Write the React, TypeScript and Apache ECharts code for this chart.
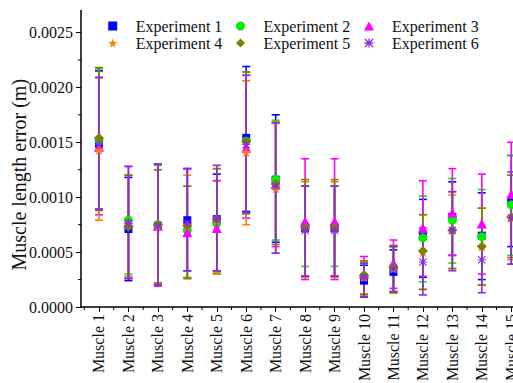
import React, { useEffect, useRef } from "react";
import * as echarts from "echarts";

const categories = [
  "Muscle 1", "Muscle 2", "Muscle 3", "Muscle 4", "Muscle 5",
  "Muscle 6", "Muscle 7", "Muscle 8", "Muscle 9", "Muscle 10",
  "Muscle 11", "Muscle 12", "Muscle 13", "Muscle 14", "Muscle 15",
];

const yTicks = [0, 0.0005, 0.001, 0.0015, 0.002, 0.0025];
const yMinorTicks = [0.00025, 0.00075, 0.00125, 0.00175, 0.00225];

const exp1Mean = [0.00149, 0.00071, 0.00074, 0.00079, 0.0008, 0.00154, 0.00116, 0.00072, 0.00072, 0.00024, 0.00032, 0.00066, 0.00082, 0.00065, 0.00097];
const exp1Low = [0.00089, 0.00024, 0.0002, 0.00033, 0.00033, 0.00087, 0.00059, 0.00028, 0.00028, 0.00009, 0.00014, 0.00027, 0.00047, 0.00025, 0.00055];
const exp1High = [0.00215, 0.00118, 0.0013, 0.00126, 0.00121, 0.00219, 0.00175, 0.0011, 0.0011, 0.00038, 0.00052, 0.00098, 0.00114, 0.00104, 0.00138];

const exp2Mean = [0.00152, 0.00079, 0.00075, 0.0007, 0.00076, 0.00151, 0.00116, 0.00074, 0.00074, 0.00028, 0.00036, 0.00063, 0.00079, 0.00064, 0.00093];
const exp2Low = [0.00088, 0.0003, 0.00021, 0.00027, 0.00031, 0.00085, 0.00061, 0.00037, 0.00037, 0.00012, 0.00013, 0.00023, 0.0004, 0.0002, 0.00047];
const exp2High = [0.00217, 0.0012, 0.00129, 0.0011, 0.00115, 0.00214, 0.0017, 0.0011, 0.0011, 0.0004, 0.00055, 0.00101, 0.00117, 0.00107, 0.00138];

const exp3Mean = [0.00146, 0.00077, 0.00074, 0.00068, 0.00072, 0.00145, 0.00112, 0.00078, 0.00078, 0.0003, 0.0004, 0.00072, 0.00086, 0.00076, 0.00103];
const exp3Low = [0.00084, 0.00026, 0.00019, 0.00026, 0.0003, 0.00081, 0.00055, 0.00025, 0.00025, 0.00012, 0.00017, 0.00028, 0.00047, 0.0003, 0.00039];
const exp3High = [0.00209, 0.00128, 0.0013, 0.00126, 0.00115, 0.00211, 0.00168, 0.00135, 0.00135, 0.00046, 0.00061, 0.00115, 0.00126, 0.00121, 0.0015];

const exp4Mean = [0.00143, 0.00075, 0.00074, 0.00074, 0.00079, 0.00141, 0.00108, 0.00071, 0.00071, 0.00027, 0.00035, 0.0005, 0.0007, 0.00055, 0.00081];
const exp4Low = [0.00079, 0.00028, 0.00022, 0.00026, 0.0003, 0.00075, 0.00049, 0.00027, 0.00027, 0.00012, 0.00013, 0.00016, 0.00035, 0.0002, 0.00043];
const exp4High = [0.00209, 0.0012, 0.00125, 0.0012, 0.00126, 0.00206, 0.00167, 0.00114, 0.00114, 0.00042, 0.00056, 0.00084, 0.00102, 0.0009, 0.0012];

const exp5Mean = [0.00154, 0.00073, 0.00075, 0.00074, 0.0008, 0.00151, 0.00112, 0.00072, 0.00072, 0.00029, 0.00036, 0.00051, 0.0007, 0.00055, 0.00082];
const exp5Low = [0.00088, 0.00026, 0.00022, 0.00026, 0.00033, 0.00085, 0.00057, 0.00028, 0.00028, 0.00011, 0.00013, 0.00016, 0.00035, 0.0002, 0.00045];
const exp5High = [0.00218, 0.0012, 0.00125, 0.0011, 0.00126, 0.00214, 0.00168, 0.00116, 0.00116, 0.00042, 0.00056, 0.00084, 0.00105, 0.0009, 0.0012];

const exp6Mean = [0.00148, 0.00076, 0.00074, 0.00076, 0.0008, 0.00148, 0.0011, 0.0007, 0.0007, 0.00027, 0.00035, 0.00041, 0.0007, 0.00043, 0.00081];
const exp6Low = [0.00089, 0.00026, 0.0002, 0.00033, 0.00033, 0.00086, 0.00049, 0.00028, 0.00028, 0.00009, 0.00014, 0.00011, 0.00033, 0.00013, 0.00039];
const exp6High = [0.00209, 0.00128, 0.0013, 0.00126, 0.00129, 0.00211, 0.00168, 0.0011, 0.0011, 0.0004, 0.00055, 0.00072, 0.00105, 0.00073, 0.00123];

const experimentNames = ["Experiment 1", "Experiment 2", "Experiment 3", "Experiment 4", "Experiment 5", "Experiment 6"];
const means = [exp1Mean, exp2Mean, exp3Mean, exp4Mean, exp5Mean, exp6Mean];
const lows = [exp1Low, exp2Low, exp3Low, exp4Low, exp5Low, exp6Low];
const highs = [exp1High, exp2High, exp3High, exp4High, exp5High, exp6High];

const colors = ["#0000ff", "#00ee00", "#ff00ff", "#ff7f00", "#808000", "#8a2be2"];
const symbols = [
  "path://M0 0H10V10H0Z",
  "circle",
  "path://M5 0L10 9L0 9Z",
  "path://M50 0L61.8 33.8L97.6 34.5L69 56.2L79.4 90.5L50 70L20.6 90.5L31 56.2L2.4 34.5L38.2 33.8Z",
  "path://M5 0L10 5L5 10L0 5Z",
  "path://M43 0H57V100H43ZM0 43H100V57H0ZM0 10L10 0L100 90L90 100ZM90 0L100 10L10 100L0 90Z",
];
const symbolSizes = [8, 9, 10, 10, 10, 8];

const FONT = "Liberation Serif";
const X_START = 0.389; // where the y axis crosses the x axis
const X_END = 15.06;

export default function App() {
  const ref = useRef<HTMLDivElement>(null);

  useEffect(() => {
    document.body.style.margin = "0";
    const chart = echarts.init(ref.current!, null, { renderer: "svg" });

    const errorSeries = experimentNames.map((name, k) => ({
      type: "custom",
      name: name + " error",
      data: categories.map((_, i) => [i + 1, lows[k][i], highs[k][i]]),
      encode: { x: 0, y: [1, 2] },
      z: 2,
      renderItem: (params: any, api: any) => {
        const x = api.value(0);
        const pLo = api.coord([x, api.value(1)]);
        const pHi = api.coord([x, api.value(2)]);
        const hw = 4;
        const style = { stroke: colors[k], lineWidth: 1.6 };
        return {
          type: "group",
          children: [
            { type: "line", shape: { x1: pLo[0], y1: pLo[1], x2: pHi[0], y2: pHi[1] }, style },
            { type: "line", shape: { x1: pHi[0] - hw, y1: pHi[1], x2: pHi[0] + hw, y2: pHi[1] }, style },
            { type: "line", shape: { x1: pLo[0] - hw, y1: pLo[1], x2: pLo[0] + hw, y2: pLo[1] }, style },
          ],
        };
      },
    }));

    const scatterSeries = experimentNames.map((name, k) => ({
      type: "scatter",
      name,
      symbol: symbols[k],
      symbolSize: symbolSizes[k],
      itemStyle: { color: colors[k], opacity: 1 },
      data: categories.map((_, i) => [i + 1, means[k][i]]),
      z: 3,
    }));

    // x axis line (starting at the y axis) and minor ticks, placed through the axes' scales
    const axisDecorSeries = {
      type: "custom",
      name: "axis decor",
      silent: true,
      clip: false,
      data: [0],
      z: 4,
      renderItem: (params: any, api: any) => {
        const children: any[] = [];
        const style = { stroke: "#000", lineWidth: 1 };
        const a = api.coord([X_START, 0]);
        const b = api.coord([X_END, 0]);
        children.push({ type: "line", shape: { x1: a[0] - 0.75, y1: a[1], x2: b[0], y2: b[1] }, style: { stroke: "#000", lineWidth: 1.5 } });
        categories.forEach((_, i) => {
          const p = api.coord([i + 0.5, 0]);
          children.push({ type: "line", shape: { x1: p[0], y1: p[1], x2: p[0], y2: p[1] + 3 }, style });
        });
        yMinorTicks.forEach((v) => {
          const p = api.coord([X_START, v]);
          children.push({ type: "line", shape: { x1: p[0], y1: p[1], x2: p[0] - 3, y2: p[1] }, style });
        });
        return { type: "group", children };
      },
    };

    const legendBase = {
      orient: "vertical",
      top: 18,
      padding: 0,
      itemWidth: 36,
      itemHeight: 9,
      itemGap: 1,
      symbolKeepAspect: true,
      textStyle: { fontFamily: FONT, fontSize: 16, color: "#111" },
    };

    const gridLeft = 81 - X_START * ((513 - 81) / (X_END - X_START));

    chart.setOption({
      animation: false,
      backgroundColor: "#ffffff",
      color: colors,
      legend: [
        { ...legendBase, left: 108, data: ["Experiment 1", "Experiment 4"] },
        { ...legendBase, left: 236, data: ["Experiment 2", "Experiment 5"] },
        { ...legendBase, left: 364, data: ["Experiment 3", "Experiment 6"] },
      ],
      grid: { left: gridLeft, right: 0, top: 10.5, bottom: 76, containLabel: false },
      xAxis: {
        type: "value",
        min: 0,
        max: X_END,
        interval: 1,
        position: "bottom",
        splitLine: { show: false },
        axisLine: { show: false },
        axisTick: { show: true, inside: false, length: 5, customValues: categories.map((_, i) => i + 1), lineStyle: { color: "#000", width: 1 } },
        axisLabel: { show: false },
      },
      yAxis: {
        type: "value",
        min: 0,
        max: 0.0027,
        interval: 0.0005,
        position: "left",
        offset: -(81 - gridLeft),
        splitLine: { show: false },
        axisLine: { show: true, onZero: false, lineStyle: { color: "#000", width: 1.5 } },
        axisTick: { show: true, inside: false, length: 5, customValues: yTicks, lineStyle: { color: "#000", width: 1 } },
        axisLabel: { show: false },
        name: "Muscle length error (m)",
        nameLocation: "middle",
        nameGap: 52,
        nameTextStyle: { fontFamily: FONT, fontSize: 20, color: "#111", padding: [0, 32, 0, 0] },
      },
      series: [...errorSeries, ...scatterSeries, axisDecorSeries],
    });

    // tick labels, positioned through the axes' own scales
    const labelStyle = { fontFamily: FONT, fontSize: 16, fill: "#111" };
    const graphics: any[] = [];
    categories.forEach((c, i) => {
      const p = chart.convertToPixel({ xAxisIndex: 0, yAxisIndex: 0 }, [i + 1, 0]) as number[];
      graphics.push({
        type: "text",
        x: p[0],
        y: p[1] + 7,
        rotation: Math.PI / 2,
        style: { ...labelStyle, text: c, align: "right", verticalAlign: "middle" },
      });
    });
    yTicks.forEach((t) => {
      const p = chart.convertToPixel({ xAxisIndex: 0, yAxisIndex: 0 }, [X_START, t]) as number[];
      graphics.push({
        type: "text",
        x: p[0] - 8,
        y: p[1],
        style: { ...labelStyle, text: t.toFixed(4), align: "right", verticalAlign: "middle" },
      });
    });
    chart.setOption({ graphic: graphics });

    return () => chart.dispose();
  }, []);

  return (
    <div
      ref={ref}
      style={{ position: "fixed", left: 0, top: 0, width: 513, height: 383 }}
    />
  );
}
